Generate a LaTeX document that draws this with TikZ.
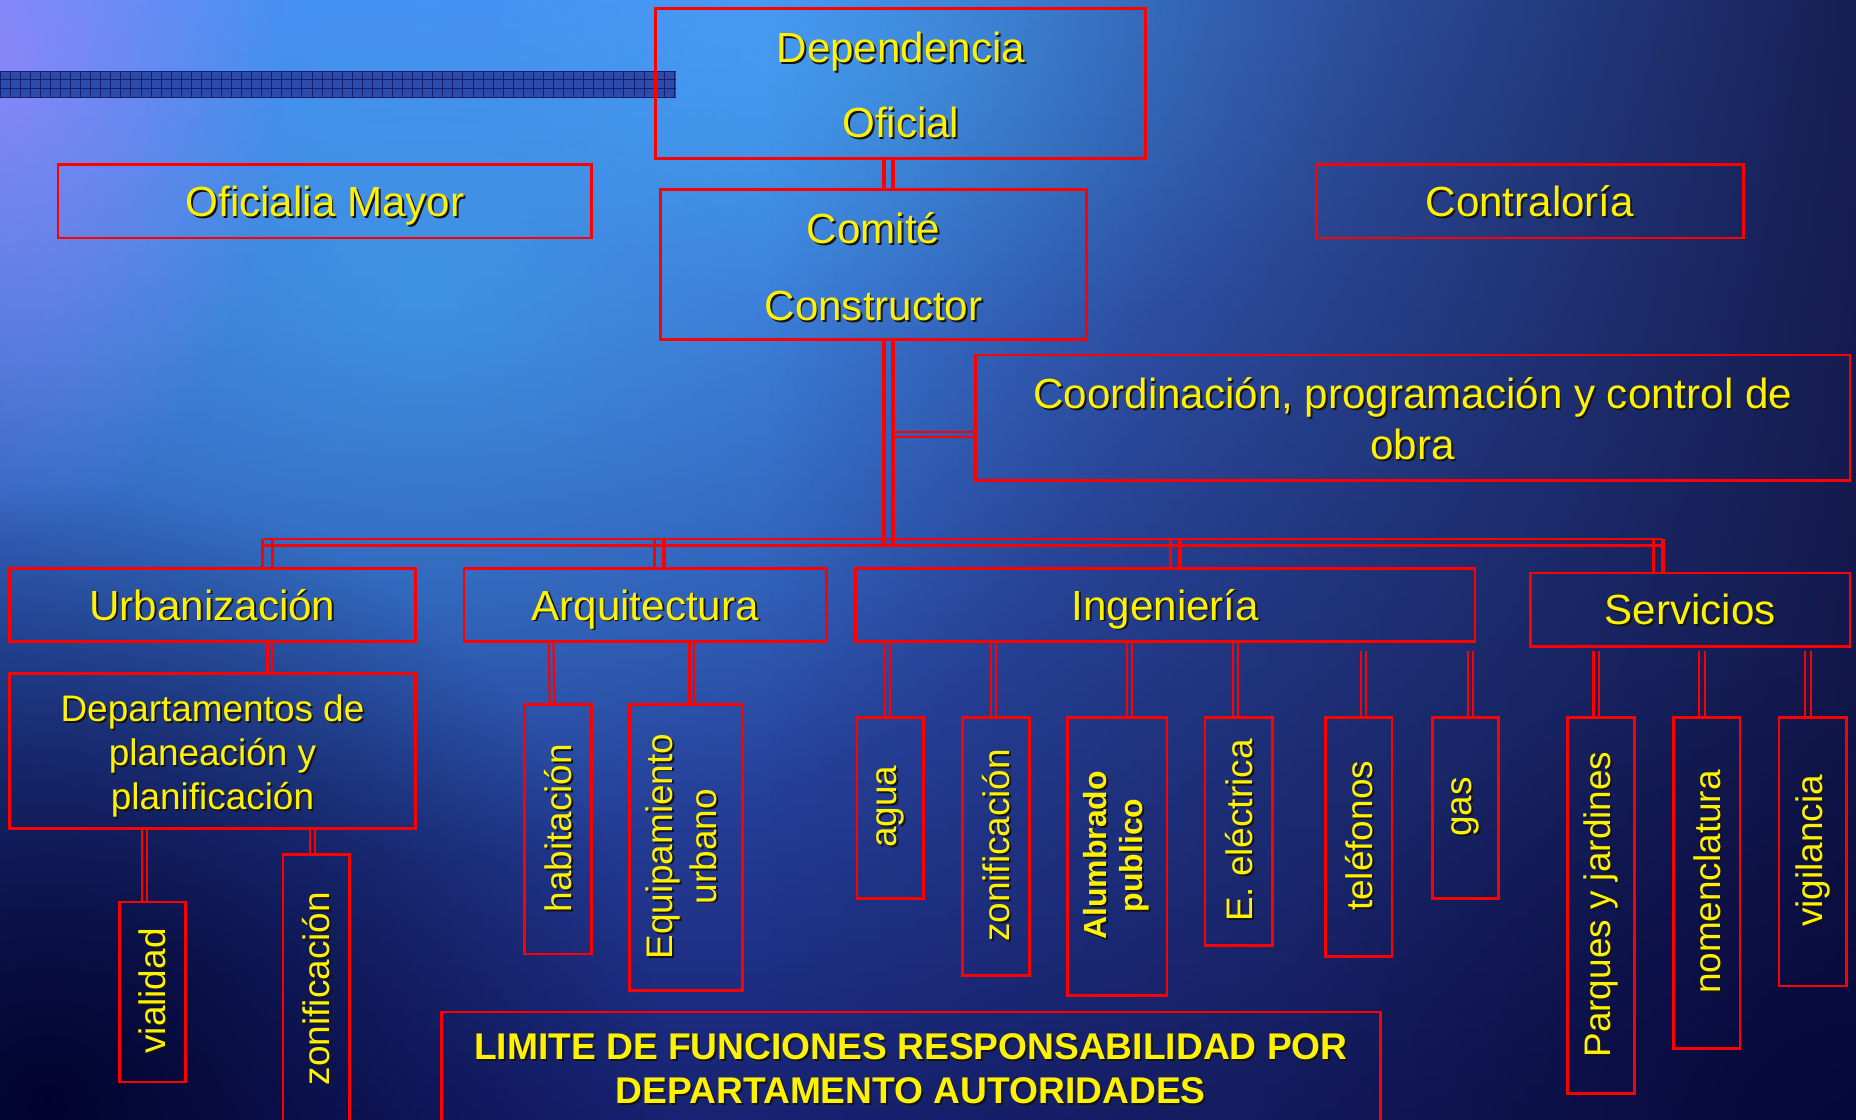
\documentclass[tikz,border=0pt]{standalone}
\usepackage{fontspec}
\setmainfont{Liberation Sans}
\usepackage{graphicx}
\usetikzlibrary{calc,fadings}
\definecolor{bgtop}{RGB}{72,134,242}
\definecolor{bgmid}{RGB}{46,84,216}
\definecolor{bgbot}{RGB}{22,32,112}
\definecolor{bgdark}{RGB}{16,18,64}
\definecolor{glowc}{RGB}{70,205,255}
\definecolor{purp}{RGB}{165,135,255}
\definecolor{gridb}{RGB}{45,75,170}
\definecolor{gridl}{RGB}{20,30,110}
\definecolor{shadowc}{RGB}{20,20,20}
\tikzfading[name=fadeR, left color=transparent!100, right color=transparent!10]
\tikzfading[name=glow, inner color=transparent!0, outer color=transparent!100]
\newcommand\sh[1]{\leavevmode\rlap{\kern0.8pt\raisebox{-0.8pt}{\color{shadowc}#1}}#1}
\newcommand\dver[3]{\draw[#1,transform canvas={xshift=-#2}] #3; \draw[#1,transform canvas={xshift=#2}] #3;}
\newcommand\dhor[3]{\draw[#1,transform canvas={yshift=-#2}] #3; \draw[#1,transform canvas={yshift=#2}] #3;}
% name, style, x1, y1, x2, y2, text
\newcommand\bnode[7]{\node[box,#2,minimum width={#5*0.5pt-#3*0.5pt},minimum height={#6*0.5pt-#4*0.5pt}] (#1) at ({(#3+#5)/2},{(#4+#6)/2}) {#7};}
\newcommand\fBig{\fontsize{17.8pt}{21.5pt}\selectfont}
\newcommand\fMed{\fontsize{15.6pt}{18.5pt}\selectfont}
\tikzset{
  box/.style={draw=red, line width=1.15pt, inner sep=0pt, outer sep=0pt, text=yellow, align=center},
  big/.style={font=\fBig},
  one/.style={font=\fBig, text height=16pt, text depth=3.2pt},
  med/.style={font=\fMed},
  trunk/.style={draw=red, line width=1.4pt},
  busl/.style={draw=red, line width=1.2pt},
  cl/.style={draw=red, line width=0.9pt},
}
\begin{document}
\begin{tikzpicture}[x=0.5pt,y=-0.5pt]
\useasboundingbox (0,0) rectangle (1568,946);
\begin{scope}
\clip (0,0) rectangle (1568,946);
% background
\shade[top color=bgtop, middle color=bgmid, bottom color=bgbot] (-10,-10) rectangle (1580,960);
\fill[glowc, path fading=glow, opacity=0.4] (360,250) ellipse [x radius=620, y radius=480];
\fill[glowc, path fading=glow, opacity=0.35] (800,50) ellipse [x radius=400, y radius=240];
\fill[purp, path fading=glow, opacity=0.7] (0,40) ellipse [x radius=240, y radius=420];
\fill[bgdark, path fading=fadeR] (650,-10) rectangle (1580,960);
\fill[black!85!blue, path fading=glow, opacity=0.9] (40,930) ellipse [x radius=520, y radius=520];
\fill[black!80!blue, path fading=glow, opacity=0.6] (1568,946) ellipse [x radius=500, y radius=400];
% grid bar
\fill[gridb] (0,60) rectangle (571,82);
\foreach \i in {0,...,67} \draw[gridl, line width=0.3pt] (\i*8.5,60) -- (\i*8.5,82);
\foreach \j in {60,67.5,75,82} \draw[gridl, line width=0.4pt] (0,\j) -- (571,\j);

% nodes
\bnode{dep}{font={\fontsize{17.8pt}{32pt}\selectfont}}{554}{7}{968}{134}{\sh{\rule{0pt}{15pt}Dependencia}\\\sh{Oficial}}
\bnode{ofm}{one}{49}{139}{500}{201}{\sh{Oficialia Mayor}}
\bnode{con}{one}{1112}{139}{1473}{201}{\sh{Contraloría}}
\bnode{com}{font={\fontsize{17.8pt}{32.5pt}\selectfont}}{558}{160}{918}{287}{\sh{\rule{0pt}{15.5pt}Comité}\\\sh{Constructor}}
\bnode{coo}{big}{824}{300}{1563}{406}{\sh{\rule{0pt}{15pt}Coordinación, programación y control de}\\\sh{obra}}
\bnode{urb}{one}{8}{480}{351}{542}{\sh{Urbanización}}
\bnode{arq}{one}{392}{480}{698}{542}{\sh{Arquitectura}}
\bnode{ing}{one}{723}{480}{1246}{542}{\sh{Ingeniería}}
\bnode{ser}{one}{1293}{484}{1563}{546}{\sh{Servicios}}
\bnode{dpl}{med}{8}{569}{351}{700}{\sh{\rule{0pt}{16.4pt}Departamentos de}\\\sh{planeación y}\\\sh{planificación}}
\bnode{via}{med}{101}{762}{157}{914}{\sh{\rotatebox{90}{vialidad}}}
\bnode{zo1}{med}{239}{722}{295}{950}{\sh{\rotatebox{90}{zonificación}}}
\bnode{hab}{med}{443}{595}{500}{806}{\sh{\rotatebox{90}{habitación}}}
\bnode{equ}{med}{532}{595}{627}{837}{\sh{\rotatebox{90}{\begin{tabular}{@{}c@{}}Equipamiento\\urbano\end{tabular}}}}
\bnode{agu}{med}{724}{606}{780}{759}{\sh{\rotatebox{90}{agua}}}
\bnode{zo2}{med}{813}{606}{870}{824}{\sh{\rotatebox{90}{zonificación}}}
\bnode{alu}{font={\fontsize{13.5pt}{15pt}\selectfont\bfseries}}{902}{606}{986}{841}{\sh{\rotatebox{90}{\begin{tabular}{@{}c@{}}Alumbrado\\publico\end{tabular}}}}
\bnode{ele}{med}{1018}{606}{1075}{799}{\sh{\rotatebox{90}{E. eléctrica}}}
\bnode{tel}{med}{1120}{606}{1176}{808}{\sh{\rotatebox{90}{teléfonos}}}
\bnode{gas}{med}{1210}{606}{1266}{759}{\sh{\rotatebox{90}{gas}}}
\bnode{par}{med}{1324}{606}{1381}{924}{\sh{\rotatebox{90}{Parques y jardines}}}
\bnode{nom}{med}{1414}{606}{1470}{886}{\sh{\rotatebox{90}{nomenclatura}}}
\bnode{vig}{med}{1503}{606}{1560}{833}{\sh{\rotatebox{90}{vigilancia}}}
\bnode{lim}{font={\fontsize{15.7pt}{18.5pt}\selectfont\bfseries}}{373}{855}{1166}{952}{\sh{LIMITE DE FUNCIONES RESPONSABILIDAD POR}\\\sh{DEPARTAMENTO AUTORIDADES}}

% connectors
\coordinate (tk) at (750.5,0);
\coordinate (bus) at (0,458);
\coordinate (cy) at (0,367);
\coordinate (dU) at (226,0);
\coordinate (dA) at (557,0);
\coordinate (dI) at (993,0);
\coordinate (dS) at (1401,0);
\coordinate (uD) at (228,0);
\dver{trunk}{1.9pt}{(dep.south -| tk) -- (com.north -| tk)}
\dver{trunk}{1.9pt}{(com.south -| tk) -- ($(tk |- bus)+(0,2)$)}
\dhor{cl}{0.95pt}{($(tk |- cy)+(4,0)$) -- (coo.west |- cy)}
\dhor{busl}{1.3pt}{($(dU |- bus)+(-3,0)$) -- ($(dS |- bus)+(3,0)$)}
\dver{trunk}{2pt}{($(dU |- bus)+(0,-3)$) -- (dU |- urb.north)}
\dver{trunk}{2pt}{($(dA |- bus)+(0,-3)$) -- (dA |- arq.north)}
\dver{trunk}{2pt}{($(dI |- bus)+(0,-3)$) -- (dI |- ing.north)}
\dver{trunk}{2pt}{($(dS |- bus)+(0,-3)$) -- (dS |- ser.north)}
\dver{cl}{1pt}{(urb.south -| uD) -- (dpl.north -| uD)}
\dver{cl}{0.95pt}{($(dpl.south -| via.north)+(-7,0)$) -- ($(via.north)+(-7,0)$)}
\dver{cl}{1.2pt}{($(dpl.south -| zo1.north)+(-3,0)$) -- ($(zo1.north)+(-3,0)$)}
\dver{cl}{1pt}{($(arq.south -| hab.north)+(-6,0)$) -- ($(hab.north)+(-5,0)$)}
\dver{cl}{1pt}{($(arq.south -| equ.north)+(5,0)$) -- ($(equ.north)+(5,0)$)}
\dver{cl}{1.05pt}{($(ing.south -| agu.north)+(-2,0)$) -- ($(agu.north)+(-2,0)$)}
\dver{cl}{1.05pt}{($(ing.south -| zo2.north)+(-2,0)$) -- ($(zo2.north)+(-2,0)$)}
\dver{cl}{1.05pt}{($(ing.south -| alu.north)+(10,0)$) -- ($(alu.north)+(10,0)$)}
\dver{cl}{1.05pt}{($(ing.south -| ele.north)+(-3,0)$) -- ($(ele.north)+(-3,0)$)}
\dver{cl}{1.05pt}{($(ing.south -| tel.north)+(4,8)$) -- ($(tel.north)+(4,0)$)}
\dver{cl}{1.05pt}{($(ing.south -| gas.north)+(4,8)$) -- ($(gas.north)+(4,0)$)}
\dver{cl}{1.15pt}{($(ser.south -| par.north)+(-4,4)$) -- ($(par.north)+(-4,0)$)}
\dver{cl}{1.15pt}{($(ser.south -| nom.north)+(-4,4)$) -- ($(nom.north)+(-4,0)$)}
\dver{cl}{1.15pt}{($(ser.south -| vig.north)+(-4,4)$) -- ($(vig.north)+(-4,0)$)}
\end{scope}
\end{tikzpicture}
\end{document}
